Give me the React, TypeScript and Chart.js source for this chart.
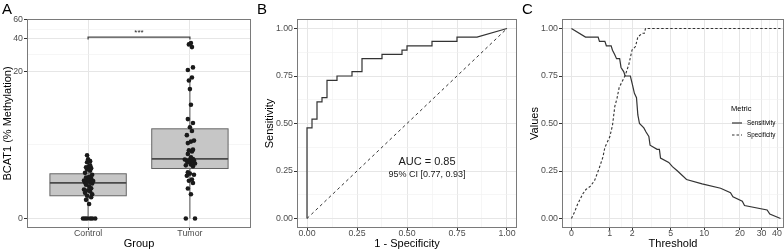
import React, { useEffect, useRef } from "react";
import { Chart, registerables } from "chart.js";

Chart.register(...registerables);

const FONT = "'Liberation Sans', Arial, Helvetica, sans-serif";
const TICK_COLOR = "#4d4d4d";
const GRID_MAJOR = "#e6e6e6";
const GRID_MINOR = "#f0f0f0";
const FRAME = "#7a7a7a";
const INK = "#333333";

// ---------- Panel A data ----------
const groups = ["Control", "Tumor"];
const controlValues = [
  0, 0, 0, 0, 0, 0, 0.35, 0.47, 0.55, 0.6,
  0.65, 0.7, 0.75, 0.79, 0.82, 0.87, 0.95, 1.01, 1.06, 1.1,
  1.12, 1.15, 1.17, 1.19, 1.24, 1.29, 1.33, 1.37, 1.47, 1.57,
  1.68, 1.75, 1.83, 1.88, 1.94, 2.0, 2.2, 2.27, 2.4, 2.7,
];
const controlJitter = [
  -0.05, -0.03, -0.01, 0.02, 0.04, 0.07, 0.01, -0.02, 0.03, -0.01,
  0.04, -0.03, 0.02, 0.0, -0.04, 0.03, 0.01, -0.02, 0.04, -0.03,
  0.02, -0.01, 0.05, -0.04, 0.0, 0.03, -0.02, 0.01, 0.04, -0.03,
  0.02, -0.01, 0.03, -0.02, 0.01, 0.02, -0.01, 0.02, 0.0, -0.01,
];
const tumorValues = [
  0, 0, 0.65, 0.86, 1.08, 1.18, 1.24, 1.42, 1.47, 1.53,
  1.6, 1.95, 2.0, 2.06, 2.12, 2.2, 2.26, 2.29, 2.32, 2.35,
  2.38, 2.42, 2.55, 2.8, 3.0, 3.1, 3.15, 3.75, 3.9, 4.0,
  4.6, 5.1, 5.6, 6.2, 6.8, 9.5, 13.5, 16.3, 17.4, 20.5,
  21.7, 33.5, 35.5, 36.5,
];
const tumorJitter = [
  -0.04, 0.05, 0.01, -0.02, 0.03, -0.01, 0.02, -0.03, 0.04, 0.0,
  -0.02, 0.03, -0.04, 0.01, 0.05, -0.02, 0.02, -0.03, 0.04, 0.0,
  -0.05, 0.03, 0.01, -0.02, 0.02, -0.01, 0.03, -0.02, 0.01, 0.04,
  -0.03, 0.02, 0.0, 0.03, -0.02, 0.01, 0.0, -0.01, 0.02, -0.02,
  0.03, 0.02, -0.01, 0.01,
];
const boxQ1 = [0.6, 1.81];
const boxMedian = [1.09, 2.43];
const boxQ3 = [1.52, 5.38];
const whiskerLow = [0, 0];
const whiskerHigh = [2.73, 17.4];
const methylationTicks = [0, 20, 40, 60];
const sigLevel = 41.5;
const sigLabel = "***";

// ---------- Panel B data ----------
const rocFpr = [
  0, 0, 0.025, 0.025, 0.05, 0.05, 0.075, 0.075, 0.1, 0.1, 0.15, 0.15, 0.225, 0.225,
  0.275, 0.275, 0.375, 0.375, 0.475, 0.475, 0.5, 0.5, 0.625, 0.625, 0.75, 0.75, 0.85, 1,
];
const rocTpr = [
  0, 0.477, 0.477, 0.523, 0.523, 0.614, 0.614, 0.636, 0.636, 0.727, 0.727, 0.75, 0.75, 0.773,
  0.773, 0.841, 0.841, 0.864, 0.864, 0.886, 0.886, 0.909, 0.909, 0.932, 0.932, 0.955, 0.955, 1,
];
const chanceLine = [0, 1];
const probTicks = [0, 0.25, 0.5, 0.75, 1];
const aucLabel = "AUC = 0.85";
const ciLabel = "95% CI [0.77, 0.93]";

// ---------- Panel C data ----------
const sensThreshold = [
  0, 0.29, 0.62, 0.66, 0.83, 0.88, 1.05, 1.1, 1.18, 1.26,
  1.39, 1.45, 1.57, 1.64, 1.9, 2.01, 2.12, 2.24, 2.32, 2.42,
  2.7, 2.85, 3.05, 3.14, 3.7, 3.9, 4.0, 4.8, 5.2, 5.8,
  7.0, 9.6, 13.8, 16.7, 17.5, 20.9, 21.8, 33.3, 35.0, 42.7,
];
const sensValues = [
  1, 0.955, 0.955, 0.932, 0.932, 0.909, 0.909, 0.886, 0.864, 0.841,
  0.841, 0.795, 0.773, 0.75, 0.75, 0.705, 0.659, 0.636, 0.545, 0.5,
  0.477, 0.455, 0.432, 0.386, 0.364, 0.364, 0.318, 0.295, 0.273, 0.25,
  0.205, 0.182, 0.159, 0.136, 0.114, 0.091, 0.068, 0.045, 0.023, 0,
];
const specThreshold = [
  0, 0.06, 0.12, 0.23, 0.3, 0.41, 0.52, 0.65, 0.77, 0.83,
  1.0, 1.1, 1.19, 1.28, 1.37, 1.5, 1.65, 1.82, 1.99, 2.18,
  2.32, 2.59, 2.74, 2.81, 42.7,
];
const specValues = [
  0, 0.035, 0.076, 0.13, 0.153, 0.17, 0.2, 0.264, 0.325, 0.374,
  0.43, 0.49, 0.59, 0.633, 0.69, 0.72, 0.755, 0.81, 0.887, 0.905,
  0.955, 0.975, 0.975, 1, 1,
];
const thresholdTicks = [0, 1, 2, 5, 10, 20, 30, 40];
const metricNames = ["Sensitivity", "Specificity"];

// ---------- helpers ----------
const tf = (v: number) => Math.log1p(v);

type Tk = { value: number; text: string; minor: boolean };

function tickSet(majors: { value: number; text: string }[], minors: boolean): Tk[] {
  const out: Tk[] = majors.map((m) => ({ value: m.value, text: m.text, minor: false }));
  if (minors) {
    for (let i = 0; i < majors.length - 1; i++) {
      out.push({ value: (majors[i].value + majors[i + 1].value) / 2, text: "", minor: true });
    }
  }
  return out.sort((a, b) => a.value - b.value);
}

function axisOpts(o: {
  position: "left" | "bottom";
  min: number;
  max: number;
  ticks: Tk[];
  size: number;
  title: string;
  titlePad: number;
}) {
  const horizontal = o.position === "bottom";
  return {
    type: "linear",
    position: o.position,
    min: o.min,
    max: o.max,
    afterBuildTicks: (scale: any) => {
      scale.ticks = o.ticks.map((t) => ({ value: t.value, text: t.text, minor: t.minor }));
    },
    afterFit: (scale: any) => {
      if (horizontal) scale.height = o.size;
      else scale.width = o.size;
    },
    ticks: {
      autoSkip: false,
      maxRotation: 0,
      minRotation: 0,
      padding: horizontal ? -1 : 1,
      color: TICK_COLOR,
      font: { family: FONT, size: 8.8, lineHeight: 1 },
      callback: (_v: any, i: number, arr: any[]) => (arr[i] && !arr[i].minor ? arr[i].text : ""),
    },
    grid: {
      color: (c: any) => (c.tick && c.tick.minor ? GRID_MINOR : GRID_MAJOR),
      lineWidth: (c: any) => (c.tick && c.tick.minor ? 0.6 : 1),
      tickColor: (c: any) => (c.tick && c.tick.minor ? "rgba(0,0,0,0)" : INK),
      tickLength: horizontal ? 2 : 3,
      drawTicks: true,
      drawOnChartArea: true,
    },
    border: { display: false },
    title: {
      display: true,
      text: o.title,
      color: "#000",
      font: { family: FONT, size: 11, lineHeight: 1.2 },
      padding: horizontal ? { top: 0, bottom: o.titlePad } : { top: o.titlePad, bottom: 0 },
    },
  };
}

function framePlugin(letter: string) {
  return {
    id: "frame" + letter,
    afterDraw(chart: any) {
      const { ctx, chartArea: a } = chart;
      ctx.save();
      ctx.strokeStyle = FRAME;
      ctx.lineWidth = 1;
      ctx.strokeRect(Math.round(a.left) + 0.5, Math.round(a.top) + 0.5, Math.round(a.right - a.left) - 1, Math.round(a.bottom - a.top) - 1);
      ctx.fillStyle = "#000";
      ctx.font = `15px ${FONT}`;
      ctx.textBaseline = "top";
      ctx.textAlign = "left";
      ctx.fillText(letter, 2, 2);
      ctx.restore();
    },
  };
}

const baseOptions = {
  animation: false,
  responsive: false,
  devicePixelRatio: 1,
  plugins: { legend: { display: false }, tooltip: { enabled: false } },
};

// ---------- Panel A ----------
function configA(): any {
  const boxPlugin = {
    id: "boxes",
    beforeDatasetsDraw(chart: any) {
      const { ctx, scales } = chart;
      const x = scales.x;
      const y = scales.y;
      const py = (v: number) => y.getPixelForValue(tf(v));
      groups.forEach((_g, i) => {
        const cx = x.getPixelForValue(i + 1);
        const half = x.getPixelForValue(i + 1 + 0.375) - cx;
        ctx.save();
        ctx.strokeStyle = "#555";
        ctx.lineWidth = 1;
        ctx.beginPath();
        ctx.moveTo(cx, py(whiskerHigh[i]));
        ctx.lineTo(cx, py(boxQ3[i]));
        ctx.moveTo(cx, py(boxQ1[i]));
        ctx.lineTo(cx, py(whiskerLow[i]));
        ctx.stroke();
        const top = py(boxQ3[i]);
        const bot = py(boxQ1[i]);
        ctx.fillStyle = "#c6c6c6";
        ctx.fillRect(cx - half, top, 2 * half, bot - top);
        ctx.strokeStyle = "#666";
        ctx.strokeRect(cx - half, top, 2 * half, bot - top);
        ctx.lineWidth = 1.6;
        ctx.strokeStyle = "#4a4a4a";
        ctx.beginPath();
        ctx.moveTo(cx - half, py(boxMedian[i]));
        ctx.lineTo(cx + half, py(boxMedian[i]));
        ctx.stroke();
        ctx.restore();
      });
    },
  };
  const sigPlugin = {
    id: "sig",
    afterDatasetsDraw(chart: any) {
      const { ctx, scales } = chart;
      const x1 = scales.x.getPixelForValue(1);
      const x2 = scales.x.getPixelForValue(2);
      const yb = scales.y.getPixelForValue(tf(sigLevel));
      ctx.save();
      ctx.strokeStyle = "#444";
      ctx.lineWidth = 1.3;
      ctx.beginPath();
      ctx.moveTo(x1, yb + 2.5);
      ctx.lineTo(x1, yb);
      ctx.lineTo(x2, yb);
      ctx.lineTo(x2, yb + 2.5);
      ctx.stroke();
      ctx.fillStyle = "#222";
      ctx.font = `8px ${FONT}`;
      ctx.textAlign = "center";
      ctx.textBaseline = "bottom";
      ctx.fillText(sigLabel, (x1 + x2) / 2, yb - 0.5);
      ctx.restore();
    },
  };
  return {
    type: "scatter",
    data: {
      datasets: [
        {
          label: groups[0],
          data: controlValues.map((v, i) => ({ x: 1 + controlJitter[i], y: tf(v) })),
          pointRadius: 2.3,
          backgroundColor: "#1a1a1a",
          borderWidth: 0,
        },
        {
          label: groups[1],
          data: tumorValues.map((v, i) => ({ x: 2 + tumorJitter[i], y: tf(v) })),
          pointRadius: 2.3,
          backgroundColor: "#1a1a1a",
          borderWidth: 0,
        },
      ],
    },
    options: {
      ...baseOptions,
      layout: { padding: { top: 19, right: 3, left: 0, bottom: 0 } },
      scales: {
        x: axisOpts({
          position: "bottom",
          min: 0.4,
          max: 2.6,
          ticks: tickSet(groups.map((g, i) => ({ value: i + 1, text: g })), false),
          size: 23,
          title: "Group",
          titlePad: 0,
        }),
        y: axisOpts({
          position: "left",
          min: -0.196,
          max: 4.122,
          ticks: tickSet(methylationTicks.map((v) => ({ value: tf(v), text: String(v) })), true),
          size: 27,
          title: "BCAT1 (% Methylation)",
          titlePad: 1.5,
        }),
      },
    },
    plugins: [boxPlugin, sigPlugin, framePlugin("A")],
  };
}

// ---------- Panel B ----------
function configB(): any {
  const textPlugin = {
    id: "auc",
    afterDatasetsDraw(chart: any) {
      const { ctx, scales } = chart;
      const cx = scales.x.getPixelForValue(0.6);
      ctx.save();
      ctx.fillStyle = "#1a1a1a";
      ctx.textAlign = "center";
      ctx.textBaseline = "middle";
      ctx.font = `11px ${FONT}`;
      ctx.fillText(aucLabel, cx, scales.y.getPixelForValue(0.3));
      ctx.font = `9px ${FONT}`;
      ctx.fillText(ciLabel, cx, scales.y.getPixelForValue(0.23));
      ctx.restore();
    },
  };
  const probAxis = tickSet(probTicks.map((v) => ({ value: v, text: v.toFixed(2) })), true);
  return {
    type: "scatter",
    data: {
      datasets: [
        {
          label: "chance",
          data: chanceLine.map((v) => ({ x: v, y: v })),
          showLine: true,
          pointRadius: 0,
          borderColor: INK,
          borderWidth: 1,
          borderDash: [3, 3],
        },
        {
          label: "ROC",
          data: rocFpr.map((v, i) => ({ x: v, y: rocTpr[i] })),
          showLine: true,
          pointRadius: 0,
          borderColor: INK,
          borderWidth: 1.2,
        },
      ],
    },
    options: {
      ...baseOptions,
      layout: { padding: { top: 19, right: 3, left: 0, bottom: 0 } },
      scales: {
        x: axisOpts({ position: "bottom", min: -0.05, max: 1.05, ticks: probAxis, size: 23, title: "1 - Specificity", titlePad: 0 }),
        y: axisOpts({ position: "left", min: -0.05, max: 1.05, ticks: probAxis, size: 42, title: "Sensitivity", titlePad: 8.4 }),
      },
    },
    plugins: [textPlugin, framePlugin("B")],
  };
}

// ---------- Panel C ----------
function configC(): any {
  const legendPlugin = {
    id: "metricLegend",
    afterDraw(chart: any) {
      const { ctx, chartArea: a } = chart;
      const left = a.right - 53;
      ctx.save();
      ctx.fillStyle = "#000";
      ctx.textAlign = "left";
      ctx.textBaseline = "middle";
      ctx.font = `7.5px ${FONT}`;
      ctx.fillText("Metric", left, 109);
      chart.data.datasets.forEach((ds: any, i: number) => {
        const yy = 123 + i * 12;
        ctx.strokeStyle = ds.borderColor;
        ctx.lineWidth = ds.borderWidth;
        ctx.setLineDash(ds.borderDash || []);
        ctx.beginPath();
        ctx.moveTo(left + 1, yy);
        ctx.lineTo(left + 11, yy);
        ctx.stroke();
        ctx.setLineDash([]);
        ctx.font = `6.3px ${FONT}`;
        ctx.fillStyle = "#000";
        ctx.fillText(ds.label, left + 16, yy);
      });
      ctx.restore();
    },
  };
  return {
    type: "scatter",
    data: {
      datasets: [
        {
          label: metricNames[0],
          data: sensThreshold.map((t, i) => ({ x: tf(t), y: sensValues[i] })),
          showLine: true,
          pointRadius: 0,
          borderColor: INK,
          borderWidth: 1.2,
        },
        {
          label: metricNames[1],
          data: specThreshold.map((t, i) => ({ x: tf(t), y: specValues[i] })),
          showLine: true,
          pointRadius: 0,
          borderColor: INK,
          borderWidth: 1.1,
          borderDash: [2.5, 2],
        },
      ],
    },
    options: {
      ...baseOptions,
      layout: { padding: { top: 19, right: 6, left: 0, bottom: 0 } },
      scales: {
        x: axisOpts({
          position: "bottom",
          min: -0.17,
          max: 3.84,
          ticks: tickSet(thresholdTicks.map((v) => ({ value: tf(v), text: String(v) })), true),
          size: 23,
          title: "Threshold",
          titlePad: 0,
        }),
        y: axisOpts({
          position: "left",
          min: -0.05,
          max: 1.05,
          ticks: tickSet(probTicks.map((v) => ({ value: v, text: v.toFixed(2) })), true),
          size: 42,
          title: "Values",
          titlePad: 8.4,
        }),
      },
    },
    plugins: [legendPlugin, framePlugin("C")],
  };
}

function Panel({ left, width, build }: { left: number; width: number; build: () => any }) {
  const ref = useRef<HTMLCanvasElement | null>(null);
  useEffect(() => {
    if (!ref.current) return;
    const chart = new Chart(ref.current, build());
    return () => chart.destroy();
  }, []);
  return (
    <canvas
      ref={ref}
      width={width}
      height={251}
      style={{ position: "absolute", left, top: 0, width, height: 251, display: "block" }}
    />
  );
}

export default function App() {
  return (
    <div
      style={{
        position: "fixed",
        left: 0,
        top: 0,
        width: 784,
        height: 251,
        overflow: "hidden",
        background: "#fff",
      }}
    >
      <Panel left={0} width={255} build={configA} />
      <Panel left={255} width={265} build={configB} />
      <Panel left={520} width={270} build={configC} />
    </div>
  );
}
